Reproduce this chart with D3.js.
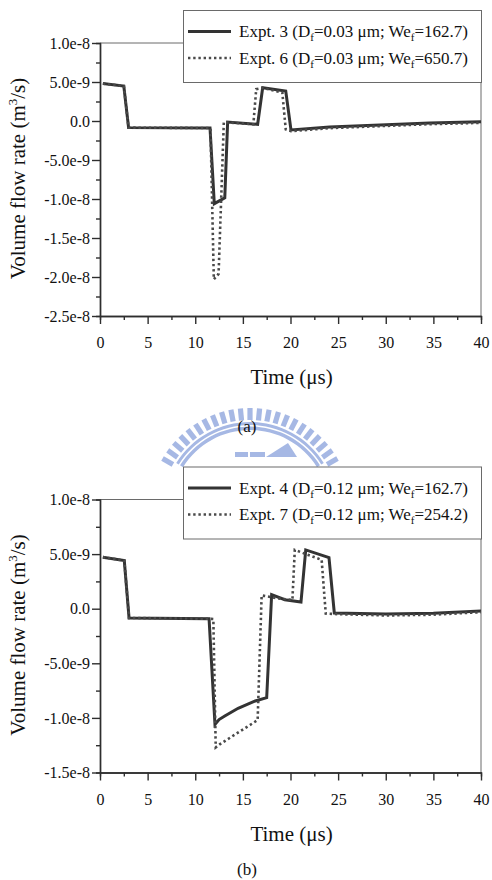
<!DOCTYPE html>
<html>
<head>
<meta charset="utf-8">
<script src="https://cdn.jsdelivr.net/npm/d3@7/dist/d3.min.js"></script>
<style>
  body { margin: 0; background: #fff; }
  svg { display: block; font-family: 'Liberation Serif', 'Times New Roman', serif; }
</style>
</head>
<body>
<svg id="chart" width="492" height="880"></svg>
<script>
// time axis (μs)
const timeTicks = [0, 5, 10, 15, 20, 25, 30, 35, 40]
const timeMinorTicks = [2.5, 7.5, 12.5, 17.5, 22.5, 27.5, 32.5, 37.5]

// (a) flow values in units of 1e-9 m^3/s
const timeExpt3 = [0.3, 2.5, 3.0, 11.55, 12.0, 13.1, 13.4, 16.55, 17.08, 19.5, 20.05, 24.1, 29.4, 34.6, 40]
const flowExpt3 = [4.8, 4.48, -0.85, -0.9, -10.6, -9.85, -0.13, -0.42, 4.27, 3.85, -1.15, -0.77, -0.51, -0.26, -0.09]
const timeExpt6 = [0.3, 2.5, 3.0, 11.6, 11.95, 12.45, 13.0, 16.1, 16.4, 17.08, 19.14, 19.5, 20.05, 24.1, 29.4, 34.6, 40]
const flowExpt6 = [4.8, 4.48, -0.85, -0.9, -20.3, -19.6, -0.15, -0.42, 4.08, 4.25, 3.65, -1.07, -1.3, -0.92, -0.66, -0.41, -0.24]
const flowTicksA = [10, 5, 0, -5, -10, -15, -20, -25]
const flowMinorA = [7.5, 2.5, -2.5, -7.5, -12.5, -17.5, -22.5]

// (b) flow values in units of 1e-9 m^3/s
const timeExpt4 = [0.3, 2.55, 3.05, 11.45, 12.07, 12.5, 13.1, 14.5, 16.3, 17.5, 18.02, 19.4, 21.1, 21.6, 24.04, 24.6, 30, 35, 40]
const flowExpt4 = [4.72, 4.41, -0.85, -0.92, -10.6, -10.15, -9.83, -9.12, -8.45, -8.15, 1.28, 0.82, 0.61, 5.38, 4.68, -0.39, -0.48, -0.42, -0.2]
const timeExpt7 = [0.3, 2.55, 3.05, 11.45, 11.9, 12.15, 12.6, 16.55, 16.97, 17.4, 18.5, 20.2, 20.45, 23.27, 23.7, 25, 30, 35, 40]
const flowExpt7 = [4.72, 4.41, -0.85, -0.92, -0.95, -12.7, -12.4, -10.2, 1.22, 1.15, 0.97, 0.8, 5.38, 4.47, -0.45, -0.5, -0.62, -0.55, -0.32]
const flowTicksB = [10, 5, 0, -5, -10, -15]
const flowMinorB = [7.5, 2.5, -2.5, -7.5, -12.5]

const legendA = [
  { expt: 'Expt. 3', df: '0.03', wef: '162.7', dotted: false },
  { expt: 'Expt. 6', df: '0.03', wef: '650.7', dotted: true }
]
const legendB = [
  { expt: 'Expt. 4', df: '0.12', wef: '162.7', dotted: false },
  { expt: 'Expt. 7', df: '0.12', wef: '254.2', dotted: true }
]

const svg = d3.select('#chart')
svg.append('rect').attr('width', 492).attr('height', 880).attr('fill', '#fff')

const LEFT = 100
const RIGHT = 481
const PLOT_H = 273
const INK = '#2e2e2e'

const fmt = v => v === 0 ? '0.0' : (v * 1e-9).toExponential(1)

// 水印 (watermark behind "(a)")
function drawWatermark (cx, cy) {
  const wm = svg.append('g').attr('fill', '#a6b8e4').attr('stroke', 'none')
  const n = 23
  d3.range(n).forEach(i => {
    const a = -60 + i * 120 / (n - 1)
    wm.append('rect')
      .attr('x', -2.6).attr('y', -101).attr('width', 5.2).attr('height', 12)
      .attr('transform', `translate(${cx},${cy}) rotate(${a})`)
  })
  const arc = d3.arc().startAngle(-58 * Math.PI / 180).endAngle(58 * Math.PI / 180)
  wm.append('path').attr('transform', `translate(${cx},${cy})`)
    .attr('d', arc({ innerRadius: 84, outerRadius: 87 }))
  wm.append('path').attr('transform', `translate(${cx},${cy})`)
    .attr('d', arc({ innerRadius: 79, outerRadius: 82.5 }))
  wm.append('rect').attr('x', cx - 15).attr('y', cy - 57).attr('width', 13).attr('height', 5)
  wm.append('rect').attr('x', cx).attr('y', cy - 57).attr('width', 15).attr('height', 5)
  wm.append('path').attr('d', `M${cx + 16},${cy - 52}L${cx + 38},${cy - 66}L${cx + 47},${cy - 52}Z`)
}

function drawPanel ({ top, yDomain, yTicks, yMinor, series, legend, label, labelY }) {
  const x = d3.scaleLinear().domain([0, 40]).range([LEFT, RIGHT])
  const y = d3.scaleLinear().domain(yDomain).range([top + PLOT_H, top])
  const bottom = top + PLOT_H
  const g = svg.append('g')

  // 上、右边框
  g.append('path')
    .attr('d', `M${LEFT},${top}H${RIGHT}V${bottom}`)
    .attr('fill', 'none').attr('stroke', '#6a6a6a').attr('stroke-width', 1)

  // 次刻度
  g.append('g').attr('transform', `translate(0,${bottom})`)
    .call(d3.axisBottom(x).tickValues(timeMinorTicks).tickSize(4).tickFormat(''))
  g.append('g').attr('transform', `translate(${LEFT},0)`)
    .call(d3.axisLeft(y).tickValues(yMinor).tickSize(4).tickFormat(''))

  const xAxis = g.append('g').attr('transform', `translate(0,${bottom})`)
    .call(d3.axisBottom(x).tickValues(timeTicks).tickSize(8).tickSizeOuter(0).tickPadding(13))
  const yAxis = g.append('g').attr('transform', `translate(${LEFT},0)`)
    .call(d3.axisLeft(y).tickValues(yTicks).tickSize(8).tickSizeOuter(0).tickPadding(2).tickFormat(fmt))

  g.selectAll('.domain').attr('stroke', INK).attr('stroke-width', 1.4)
  g.selectAll('.tick line').attr('stroke', INK).attr('stroke-width', 1.4)
  ;[xAxis, yAxis].forEach(a => a.selectAll('text')
    .attr('fill', '#111')
    .style('font-family', "'Liberation Serif', serif")
    .style('font-size', '16px'))

  // 曲线
  const line = d3.line().x(d => x(d[0])).y(d => y(d[1]))
  series.forEach(s => {
    g.append('path')
      .datum(d3.zip(s.time, s.flow))
      .attr('d', line)
      .attr('fill', 'none')
      .attr('stroke', s.dotted ? '#4a4a4a' : '#333')
      .attr('stroke-width', s.dotted ? 2.6 : 3)
      .attr('stroke-linejoin', 'miter')
      .attr('stroke-dasharray', s.dotted ? '2.4,2.8' : null)
  })

  // 坐标轴标题
  const yTitle = g.append('text')
    .attr('transform', `translate(25,${top + PLOT_H / 2 - 1}) rotate(-90)`)
    .attr('text-anchor', 'middle')
    .style('font-size', '21px')
    .attr('fill', '#111')
  yTitle.append('tspan').text('Volume flow rate (m')
  yTitle.append('tspan').attr('dy', -8).style('font-size', '13px').text('3')
  yTitle.append('tspan').attr('dy', 8).text('/s)')

  g.append('text')
    .attr('x', (LEFT + RIGHT) / 2 + 1)
    .attr('y', bottom + 68)
    .attr('text-anchor', 'middle')
    .style('font-size', '21px')
    .attr('fill', '#111')
    .text('Time (μs)')

  // 图例
  const lg = g.append('g')
  lg.append('rect')
    .attr('x', 183.5).attr('y', top - 32.5)
    .attr('width', RIGHT - 183).attr('height', 72)
    .attr('fill', '#fff').attr('stroke', '#6a6a6a').attr('stroke-width', 1)
  legend.forEach((d, i) => {
    const cy = top - 11.5 + i * 26.5
    lg.append('line')
      .attr('x1', 188).attr('x2', 231).attr('y1', cy).attr('y2', cy)
      .attr('stroke', d.dotted ? '#4a4a4a' : '#333')
      .attr('stroke-width', d.dotted ? 2.6 : 3)
      .attr('stroke-dasharray', d.dotted ? '2.4,2.8' : null)
    const t = lg.append('text')
      .attr('x', 239).attr('y', cy + 5.5)
      .style('font-size', '17px')
      .attr('fill', '#111')
    t.append('tspan').text(`${d.expt} (D`)
    t.append('tspan').attr('dy', 4).style('font-size', '11px').text('f')
    t.append('tspan').attr('dy', -4).text(`=${d.df} μm; We`)
    t.append('tspan').attr('dy', 4).style('font-size', '11px').text('f')
    t.append('tspan').attr('dy', -4).text(`=${d.wef})`)
  })

  g.append('text')
    .attr('x', 247).attr('y', labelY)
    .attr('text-anchor', 'middle')
    .style('font-size', '17px')
    .attr('fill', '#111')
    .text(label)
}

drawWatermark(250, 509)

drawPanel({
  top: 43,
  yDomain: [-25, 10],
  yTicks: flowTicksA,
  yMinor: flowMinorA,
  series: [
    { time: timeExpt3, flow: flowExpt3, dotted: false },
    { time: timeExpt6, flow: flowExpt6, dotted: true }
  ],
  legend: legendA,
  label: '(a)',
  labelY: 432
})

drawPanel({
  top: 499.5,
  yDomain: [-15, 10],
  yTicks: flowTicksB,
  yMinor: flowMinorB,
  series: [
    { time: timeExpt4, flow: flowExpt4, dotted: false },
    { time: timeExpt7, flow: flowExpt7, dotted: true }
  ],
  legend: legendB,
  label: '(b)',
  // 参考图中 (b) 被底边裁掉，这里稍上移以完整显示
  labelY: 875
})
</script>
</body>
</html>
